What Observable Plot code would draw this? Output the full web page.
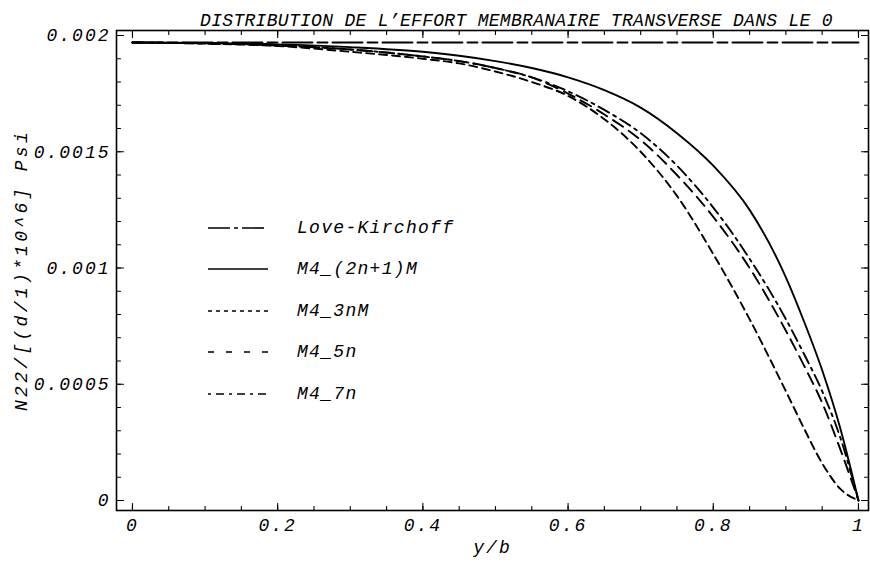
<!DOCTYPE html>
<html><head><meta charset="utf-8">
<script src="https://cdn.jsdelivr.net/npm/d3@7"></script>
<script src="https://cdn.jsdelivr.net/npm/@observablehq/plot@0.6"></script>
<style>
body{margin:0;background:#fff;}
#wrap{position:relative;width:870px;height:569px;overflow:hidden;}
#legend{position:absolute;left:206px;top:207px;font-family:"Liberation Mono",monospace;font-style:italic;font-size:18px;letter-spacing:1.3px;color:#000;}
.row{display:flex;align-items:center;height:41.5px;}
.row svg{width:64px;height:10px;margin-right:27px;}
#ylab{position:absolute;left:22px;top:270px;transform:translate(-50%,-50%) rotate(-90deg);white-space:nowrap;
  font-family:"Liberation Mono",monospace;font-style:italic;font-size:18px;letter-spacing:3.3px;color:#000;line-height:1;}
</style></head><body><div id="wrap"><div id="legend"></div><div id="ylab"></div></div>
<script>
const title = "DISTRIBUTION DE L’EFFORT MEMBRANAIRE TRANSVERSE DANS LE 0";
const xLabel = "y/b";
const yLabel = "N22/[(d/1)*10^6] Psi";
const seriesNames = ["Love-Kirchoff", "M4_(2n+1)M", "M4_3nM", "M4_5n", "M4_7n"];
const xs =           [0,       0.1,      0.2,      0.3,     0.4,     0.45,     0.5,     0.55,     0.6,     0.65,     0.7,     0.75,    0.8,     0.85,    0.9,     0.925,   0.95,    0.975,   1];
const loveKirchoff = [0.00197, 0.00197,  0.00197,  0.00197, 0.00197, 0.00197,  0.00197, 0.00197,  0.00197, 0.00197,  0.00197, 0.00197, 0.00197, 0.00197, 0.00197, 0.00197, 0.00197, 0.00197, 0.00197];
const m4_2n1M =      [0.00197, 0.001968, 0.001962, 0.00195, 0.00193, 0.001913, 0.00189, 0.00186,  0.00182, 0.001765, 0.00169, 0.00158, 0.00144, 0.00125, 0.00096, 0.00077, 0.00056, 0.00031, 0];
const m4_3nM =       [0.00197, 0.001965, 0.001955, 0.00193, 0.00190, 0.00188,  0.001845,0.00180,  0.00174, 0.00164,  0.00150, 0.00131, 0.00106, 0.00078, 0.00047, 0.00031, 0.00016, 0.00005, 0];
const m4_5n =        [0.00197, 0.001966, 0.001957, 0.00194, 0.00191, 0.00189,  0.00186, 0.00182,  0.00175, 0.00166,  0.00155, 0.00140, 0.00122, 0.00100, 0.00073, 0.00058, 0.00042, 0.00022, 0];
const m4_7n =        [0.00197, 0.001966, 0.001957, 0.00194, 0.00191, 0.00189,  0.00186, 0.00182,  0.00176, 0.00168,  0.00158, 0.00144, 0.00126, 0.00104, 0.00078, 0.00063, 0.00047, 0.00027, 0];
const yTicks = [0, 0.0005, 0.001, 0.0015, 0.002];
const yTickLabels = ["0", "0.0005", "0.001", "0.0015", "0.002"];
const xTicks = [0, 0.2, 0.4, 0.6, 0.8, 1];
const xTickLabels = ["0", "0.2", "0.4", "0.6", "0.8", "1"];
const yMinor = d3.range(0, 0.00201, 0.0001);
const xMinor = d3.range(0, 1.001, 0.05);

const seriesValues = [loveKirchoff, m4_2n1M, m4_3nM, m4_5n, m4_7n];
const dashes = ["30,5,10,5", null, "8,5", "12,7", "12,5,3,5"];
const legendDashes = ["22,4,4,4", null, "4,4", "6,12", "3,5,8,5"];

const data = seriesNames.flatMap((name, s) => xs.map((x, i) => ({name, x, y: seriesValues[s][i]})));
const yLab = new Map(yTicks.map((t, i) => [t, yTickLabels[i]]));
const xLab = new Map(xTicks.map((t, i) => [t, xTickLabels[i]]));
const font = {fontFamily: "Liberation Mono", fontStyle: "italic", fontSize: 18};
const tickShape = {draw(context, l) { context.moveTo(0, 0); context.lineTo(0, -l); }};

function ticksX(values, frameAnchor, length, rotate) {
  return Plot.vector(values, {x: d => d, frameAnchor, length, rotate, anchor: "start", shape: tickShape, stroke: "#000", strokeWidth: 1.1});
}
function ticksY(values, frameAnchor, length, rotate) {
  return Plot.vector(values, {y: d => d, frameAnchor, length, rotate, anchor: "start", shape: tickShape, stroke: "#000", strokeWidth: 1.1});
}

const marks = [
  Plot.frame({stroke: "#000", strokeWidth: 1.6}),
  ...seriesNames.map((name, s) => Plot.line(data.filter(d => d.name === name), {
    x: "x", y: "y", curve: "monotone-x", stroke: "#000", strokeWidth: 1.9,
    strokeDasharray: dashes[s]
  })),
  Plot.axisY(yTicks, {anchor: "left", label: null, tickSize: 0, tickPadding: 6, tickFormat: d => yLab.get(d), ...font}),
  Plot.axisX(xTicks, {anchor: "bottom", label: null, tickSize: 0, tickPadding: 8, tickFormat: d => xLab.get(d), ...font}),
  ticksY(yTicks, "left", 7, 90),
  ticksY(yMinor, "left", 4, 90),
  ticksY(yTicks, "right", 7, -90),
  ticksY(yMinor, "right", 4, -90),
  ticksX(xTicks, "bottom", 7, 0),
  ticksX(xMinor, "bottom", 4, 0),
  ticksX(xTicks, "top", 7, 180),
  ticksX(xMinor, "top", 4, 180),
  Plot.text([title], {frameAnchor: "top", dx: 24, dy: -17, text: d => d, ...font}),
  Plot.text([xLabel], {frameAnchor: "bottom", dy: 42, text: d => d, ...font})
];

const chart = Plot.plot({
  width: 870, height: 569,
  marginLeft: 116, marginRight: 2, marginTop: 30, marginBottom: 59,
  x: {domain: [-0.022, 1.0138], axis: null},
  y: {domain: [-0.000043, 0.0020215], axis: null},
  style: {background: "#fff", color: "#000"},
  marks
});
document.getElementById("wrap").prepend(chart);
const texts = d3.select(chart).selectAll("text");
texts.style("letter-spacing", "2px");
texts.filter(function() { return this.textContent === title; })
  .style("letter-spacing", "0.3px");

d3.select("#ylab").text(yLabel);

const legend = d3.select("#legend");
seriesNames.forEach((name, s) => {
  const row = legend.append("div").attr("class", "row");
  const svg = row.append("svg");
  svg.append("line").attr("x1", 2).attr("x2", 62).attr("y1", 5).attr("y2", 5)
    .attr("stroke", "#000").attr("stroke-width", 1.6)
    .attr("stroke-dasharray", legendDashes[s]);
  row.append("span").text(name);
});
</script></body></html>
